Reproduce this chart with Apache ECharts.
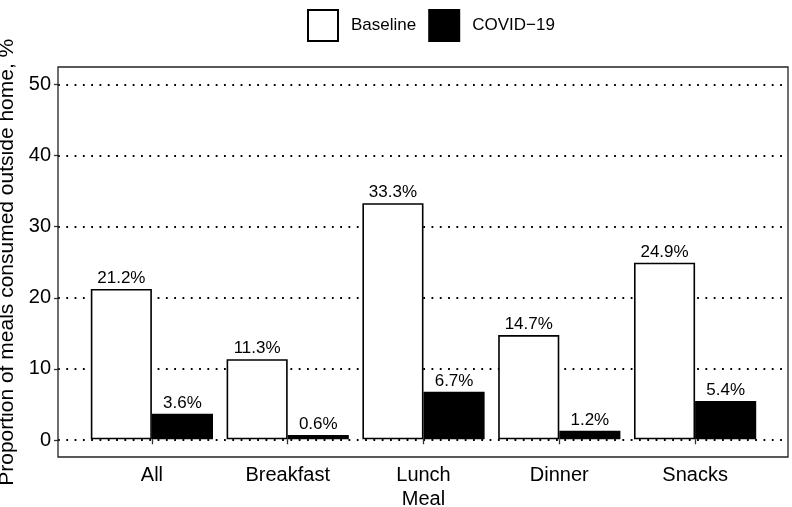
<!DOCTYPE html>
<html>
<head>
<meta charset="utf-8">
<script src="https://cdn.jsdelivr.net/npm/echarts@6/dist/echarts.min.js"></script>
<style>
  html, body { margin: 0; padding: 0; background: #fff; }
  #main { width: 792px; height: 507px; }
</style>
</head>
<body>
<div id="main"></div>
<script>
const meals = ["All", "Breakfast", "Lunch", "Dinner", "Snacks"];
const baseline = [21.2, 11.3, 33.3, 14.7, 24.9];
const covid = [3.6, 0.6, 6.7, 1.2, 5.4];
const yTicks = [0, 10, 20, 30, 40, 50];

const font = "Liberation Sans";
let myChart = echarts.init(document.getElementById('main'));

// bar label: value with a percent sign
function pct(p) {
    return p.value.toFixed(1) + '%';
}

let option = {
    animation: false,
    textStyle: {fontFamily: font},
    legend: {
        top: 4,
        left: 302,
        itemWidth: 30,
        itemHeight: 31,
        itemGap: 12,
        icon: 'rect',
        textStyle: {fontSize: 17, color: '#000', padding: [0, 0, 0, 8]},
        data: ['Baseline', 'COVID\u221219']
    },
    grid: [
        // grid for y scale 0..50 (labels and dotted lines)
        {left: 58, right: 4, top: 84.5, bottom: 67, outerBoundsMode: 'none'},
        // grid for bars, same scale with ggplot padding
        {left: 84, right: 29, top: 67, bottom: 50, outerBoundsMode: 'none'}
    ],
    xAxis: [
        {gridIndex: 0, type: 'value', show: false, min: 0, max: 1},
        {
            gridIndex: 1,
            type: 'category',
            data: meals,
            name: 'Meal',
            nameLocation: 'middle',
            nameGap: 32,
            nameTextStyle: {fontSize: 20, color: '#000'},
            axisLine: {show: false},
            axisTick: {show: true, length: 5, alignWithLabel: true,
                lineStyle: {color: '#333', width: 1.3}},
            axisLabel: {fontSize: 20, color: '#000', margin: 8}
        }
    ],
    yAxis: [
        {
            gridIndex: 0,
            type: 'value',
            min: 0,
            max: 50,
            interval: 10,
            name: 'Proportion of meals consumed outside home, %',
            nameLocation: 'middle',
            nameGap: 39,
            nameRotate: 90,
            nameTextStyle: {fontSize: 21, color: '#000'},
            axisLine: {show: false},
            axisTick: {show: true, length: 4, lineStyle: {color: '#333', width: 1.3}},
            axisLabel: {fontSize: 20, color: '#000', margin: 7,
                customValues: yTicks},
            splitLine: {
                show: true,
                lineStyle: {color: '#000', width: 1.8, type: [1.8, 6.5]}
            }
        },
        {gridIndex: 1, type: 'value', min: -2.5, max: 52.5, show: false}
    ],
    graphic: [
        {
            type: 'rect',
            z: 100,
            shape: {x: 58, y: 67, width: 730, height: 390},
            style: {fill: null, stroke: '#222', lineWidth: 1.3}
        }
    ],
    series: [
        {
            name: 'Baseline',
            type: 'bar',
            xAxisIndex: 1,
            yAxisIndex: 1,
            data: baseline,
            barGap: '0%',
            barCategoryGap: '10%',
            itemStyle: {color: '#fff', borderColor: '#000', borderWidth: 1.6},
            label: {show: true, position: 'top', distance: 2, fontSize: 17,
                color: '#000', formatter: pct}
        },
        {
            name: 'COVID\u221219',
            type: 'bar',
            xAxisIndex: 1,
            yAxisIndex: 1,
            data: covid,
            barGap: '0%',
            barCategoryGap: '10%',
            itemStyle: {color: '#000', borderColor: '#000', borderWidth: 1.6},
            label: {show: true, position: 'top', distance: 2, fontSize: 17,
                color: '#000', formatter: pct}
        }
    ]
};
myChart.setOption(option);
</script>
</body>
</html>
